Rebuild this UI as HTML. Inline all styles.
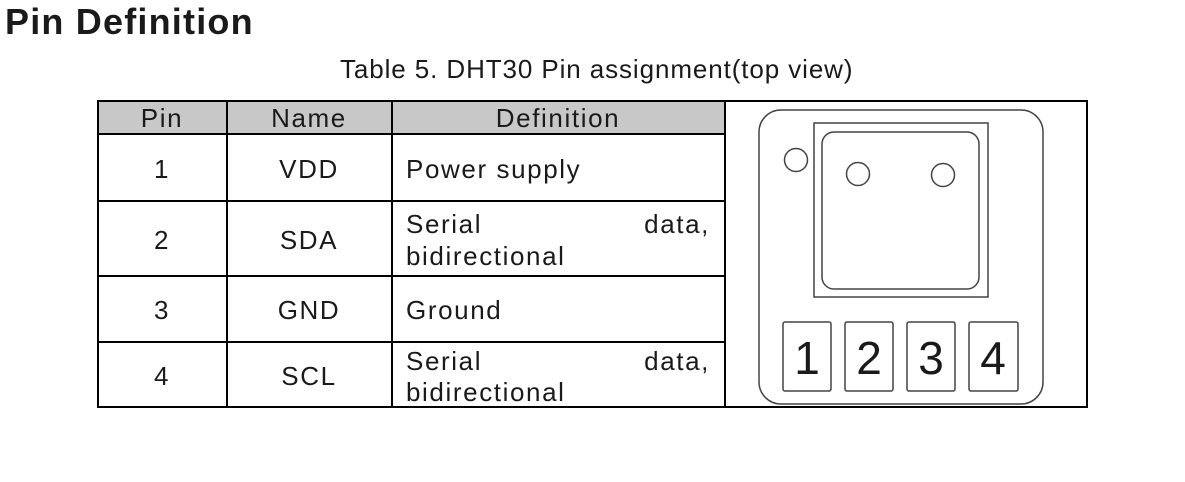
<!DOCTYPE html>
<html><head><style>
body{margin:0;width:1185px;height:482px;background:#fff;position:relative;overflow:hidden;font-family:"Liberation Sans",sans-serif;color:#1a1a1a}
.t{position:absolute;white-space:nowrap}
</style></head><body>
<div class="t" style="left:5px;top:1px;font-size:36px;font-weight:bold;letter-spacing:1.2px;">Pin Definition</div>
<div class="t" style="left:340px;top:54px;font-size:26px;letter-spacing:0.9px;">Table 5. DHT30 Pin assignment(top view)</div>
<svg width="1185" height="482" style="position:absolute;left:0;top:0" font-family="Liberation Sans, sans-serif" fill="#1a1a1a">
<rect x="98" y="101" width="627" height="33" fill="#c8c8c8"/>
<g stroke="#000" stroke-width="2" fill="none">
<rect x="98" y="101" width="989" height="306"/>
<line x1="227" y1="101" x2="227" y2="407"/>
<line x1="392" y1="101" x2="392" y2="407"/>
<line x1="725" y1="101" x2="725" y2="407"/>
<line x1="98" y1="134" x2="725" y2="134"/>
<line x1="98" y1="201" x2="725" y2="201"/>
<line x1="98" y1="276" x2="725" y2="276"/>
<line x1="98" y1="342" x2="725" y2="342"/>
</g>
<g font-size="26" text-anchor="middle" letter-spacing="1.6">
<text x="162" y="127">Pin</text><text x="309" y="127">Name</text><text x="558" y="127">Definition</text>
<text x="162" y="178">1</text><text x="309" y="178">VDD</text>
<text x="162" y="249">2</text><text x="309" y="249">SDA</text>
<text x="162" y="319">3</text><text x="309" y="319">GND</text>
<text x="162" y="385">4</text><text x="309" y="385">SCL</text>
</g>
<g font-size="26" letter-spacing="1.6">
<text x="406" y="178">Power supply</text>
<text x="406" y="233">Serial</text><text x="710" y="233" text-anchor="end">data,</text>
<text x="406" y="265">bidirectional</text>
<text x="406" y="319">Ground</text>
<text x="406" y="370">Serial</text><text x="710" y="370" text-anchor="end">data,</text>
<text x="406" y="401">bidirectional</text>
</g>
<g stroke="#444" stroke-width="1.5" fill="none">
<rect x="759" y="110" width="284" height="294" rx="22"/>
<rect x="814" y="123" width="174" height="174"/>
<rect x="822" y="132" width="157" height="157" rx="12"/>
<circle cx="796" cy="160" r="11.5"/>
<circle cx="858" cy="174" r="11.5"/>
<circle cx="943" cy="175" r="11.5"/>
<rect x="783" y="322" width="48" height="69" rx="2"/>
<rect x="845" y="322" width="48" height="69" rx="2"/>
<rect x="907" y="322" width="48" height="69" rx="2"/>
<rect x="969" y="322" width="49" height="69" rx="2"/>
</g>
<g font-size="46" text-anchor="middle">
<text x="807" y="374">1</text><text x="869" y="374">2</text><text x="931" y="374">3</text><text x="993" y="374">4</text>
</g>
</svg>
</body></html>
